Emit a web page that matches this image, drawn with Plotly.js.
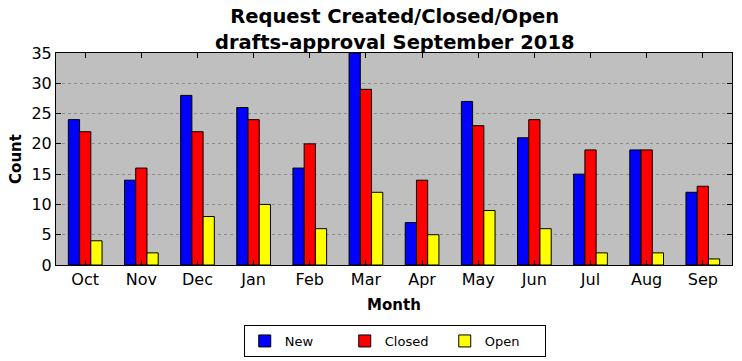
<!DOCTYPE html>
<html><head><meta charset="utf-8">
<script src="https://cdn.plot.ly/plotly-3.0.1.min.js"></script>
<style>html,body{margin:0;padding:0;background:#fff}#chart{width:742px;height:361px}</style>
</head><body><div id="chart"></div>
<script>
const months = ["Oct","Nov","Dec","Jan","Feb","Mar","Apr","May","Jun","Jul","Aug","Sep"];
const newVals = [24,14,28,26,16,35,7,27,21,15,19,12];
const closedVals = [22,16,22,24,20,29,14,23,24,19,19,13];
const openVals = [4,2,8,10,6,12,5,9,6,2,2,1];
const yTicks = [0,5,10,15,20,25,30,35];

function bar(name, y, color){
  return {type:'bar', name:name, x:months, y:y,
    marker:{color:color, line:{color:'#000', width:1}}};
}
const data = [bar('New',newVals,'#0000ff'), bar('Closed',closedVals,'#ff0000'), bar('Open',openVals,'#ffff00')];
const font = {family:'DejaVu Sans', color:'#000'};
const layout = {
  width:742, height:361,
  margin:{l:56, r:10, t:53, b:96, autoexpand:false},
  paper_bgcolor:'#fff', plot_bgcolor:'#bfbfbf',
  font:font,
  barmode:'group', bargap:0.4, bargroupgap:0,
  title:{text:'<b>Request Created/Closed/Open<br>drafts-approval September 2018</b>',
    font:{family:'DejaVu Sans', size:19.5, color:'#000'}, x:0.532, xanchor:'center', xref:'container',
    y:0.935, yanchor:'bottom', yref:'container'},
  xaxis:{range:[-0.52,11.52], tickvals:months, ticktext:months, showline:true, linecolor:'#000', linewidth:1,
    mirror:'allticks', ticks:'inside', ticklen:5, tickcolor:'#000', showgrid:false,
    tickfont:{family:'DejaVu Sans', size:16, color:'#000'},
    title:{text:'<b>Month</b>', font:{family:'DejaVu Sans', size:15, color:'#000'}, standoff:11}},
  yaxis:{range:[0,35], tickvals:yTicks, showline:true, linecolor:'#000', linewidth:1,
    mirror:'allticks', ticks:'inside', ticklen:5, tickcolor:'#000',
    showgrid:true, gridcolor:'#8c8c8c', griddash:'dot', gridwidth:1, zeroline:false,
    tickfont:{family:'DejaVu Sans', size:16, color:'#000'},
    title:{text:'<b>Count</b>', font:{family:'DejaVu Sans', size:15, color:'#000'}, standoff:6}},
  legend:{orientation:'h', x:0.532, xanchor:'center', xref:'container', y:-0.283, yanchor:'top',
    bordercolor:'#000', borderwidth:1, bgcolor:'#fff', entrywidth:55, entrywidthmode:'pixels',
    font:{family:'DejaVu Sans', size:13, color:'#000'}, traceorder:'normal'},
  showlegend:true
};
Plotly.newPlot('chart', data, layout, {displayModeBar:false, staticPlot:true});
</script></body></html>
